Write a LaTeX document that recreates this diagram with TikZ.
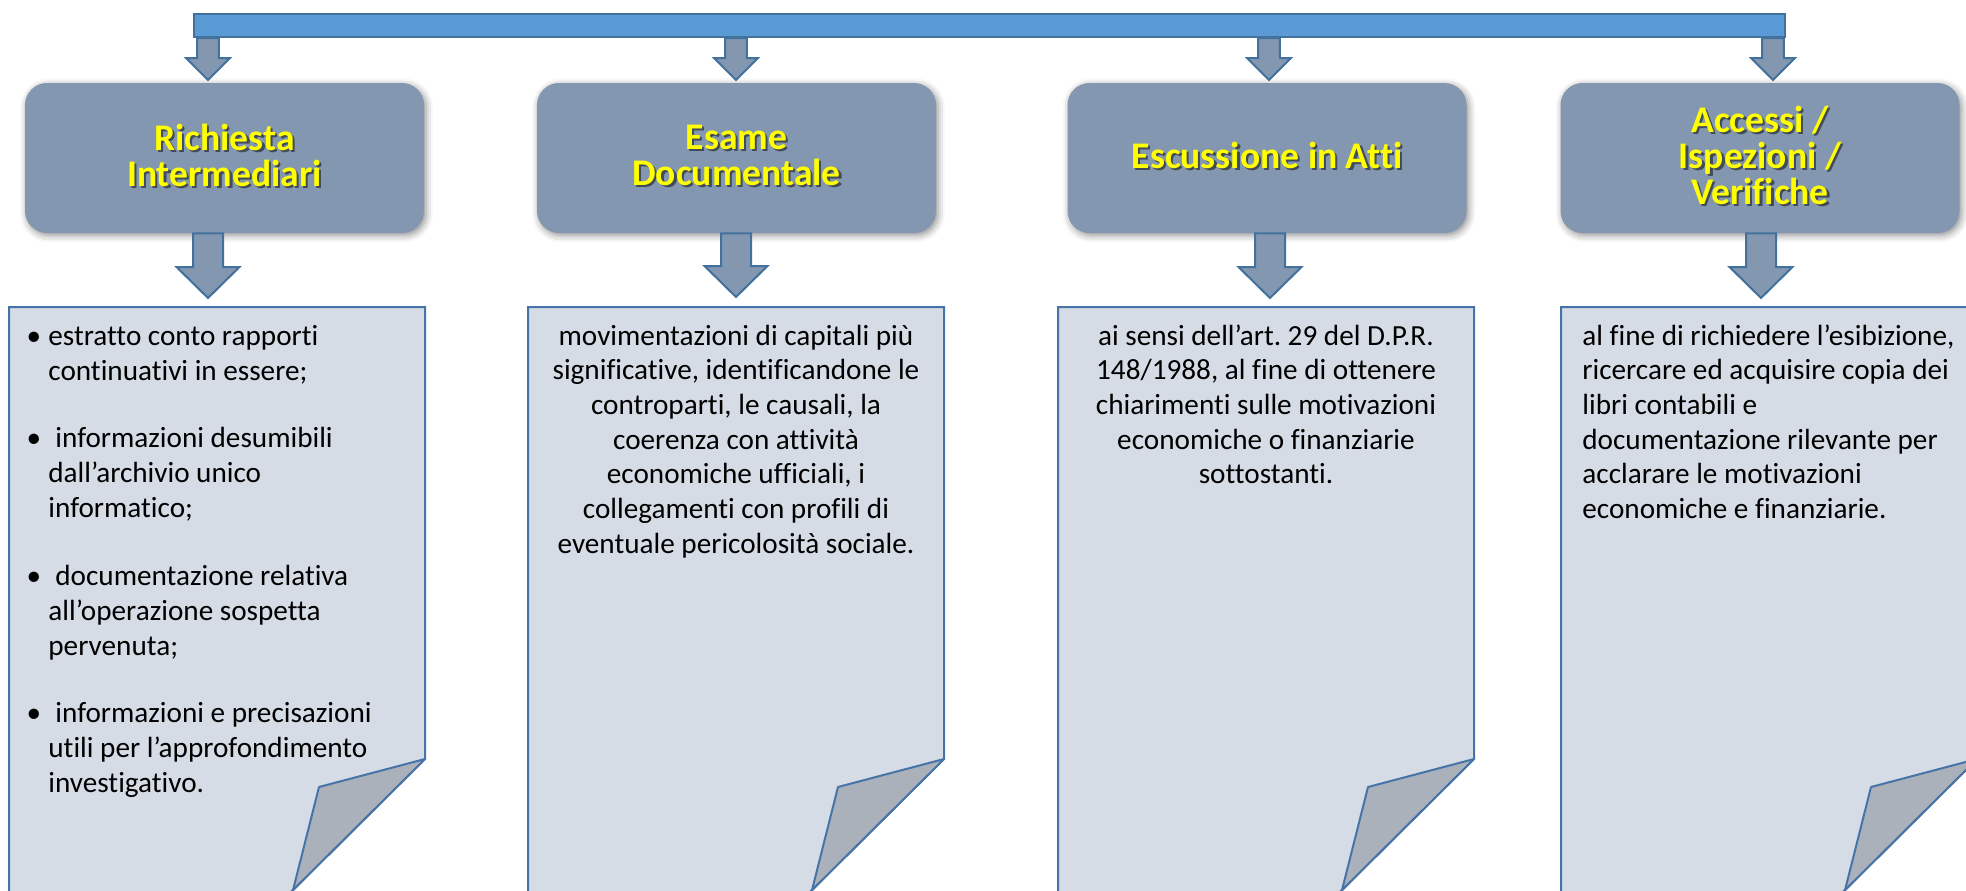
\documentclass[tikz,border=0pt]{standalone}
\usepackage{fontspec}
\setmainfont{Carlito}[Ligatures={NoCommon}]
\usetikzlibrary{calc,shadows.blur}
\frenchspacing
\definecolor{barfill}{HTML}{5B9BD5}
\definecolor{edge}{HTML}{41719C}
\definecolor{docedge}{HTML}{4674A8}
\definecolor{boxfill}{HTML}{8497B0}
\definecolor{docfill}{HTML}{D6DCE5}
\definecolor{flapfill}{HTML}{ABB1BA}
\definecolor{titlec}{HTML}{FFFF00}
\colorlet{tshadow}{black!50!boxfill}
\newcommand\sh[1]{\leavevmode\rlap{\hspace{1.1pt}\raisebox{-1.1pt}[0pt][0pt]{\color{tshadow}#1}}#1}
\newcommand\blockarrow[5]{\draw[barrow] let \p1=(#1), \p2=(#2) in
  (\x2-#3,\y1) -- (\x2+#3,\y1) -- (\x2+#3,\y2+#5) -- (\x2+#4,\y2+#5) -- (\x2,\y2)
  -- (\x2-#4,\y2+#5) -- (\x2-#3,\y2+#5) -- cycle;}
\newcommand\docpage[3]{%
  \draw[docstyle] (#1,307) -- (#2,307) -- (#2,759) -- (#2-142,900) -- (#1,900) -- cycle;
  \draw[flapstyle] (#2,759) -- (#2-106,787) -- (#2-134.5,900) -- (#2-142,900) -- cycle;
  \coordinate (#3) at ({(#1+#2)/2},307);}
\begin{document}
\begin{tikzpicture}[x=0.5pt,y=-0.5pt,
  barstyle/.style={draw=edge, line width=1.2pt, fill=barfill, inner sep=0pt, minimum width=795.5pt, minimum height=11.5pt},
  boxstyle/.style={fill=boxfill, rounded corners=11pt, inner sep=0pt, minimum width=199.5pt, minimum height=75pt,
    blur shadow={shadow xshift=1pt, shadow yshift=-1.2pt, shadow blur radius=3.5pt, shadow opacity=45}},
  titlestyle/.style={text=titlec, font=\bfseries\fontsize{18.8}{18}\selectfont, align=center, inner sep=0pt},
  barrow/.style={draw=edge, line width=1pt, fill=boxfill, line join=miter},
  docstyle/.style={draw=docedge, line width=1pt, fill=docfill},
  flapstyle/.style={draw=docedge, line width=1pt, fill=flapfill, line join=round},
  body/.style={font=\fontsize{14.6}{17.35}\selectfont, inner sep=0pt, text=black}]
\useasboundingbox (0,0) rectangle (1966,890);
\begin{scope}
\clip (0,0) rectangle (1966,890);

% documents
\docpage{9}{425}{doc1}
\docpage{528}{944}{doc2}
\docpage{1058}{1474}{doc3}
\docpage{1561}{1977}{doc4}

% top bar
\node[barstyle] (bar) at (989.5,25.5) {};

% boxes
\node[boxstyle] (box1) at (224.5,158) {};
\node[boxstyle] (box2) at (736.5,158) {};
\node[boxstyle] (box3) at (1267,158) {};
\node[boxstyle] (box4) at (1760,158) {};

\node[titlestyle] (title1) at (224.5,155) {\sh{Richiesta}\\\sh{Intermediari}};
\node[titlestyle] (title2) at (736.5,155) {\sh{Esame}\\\sh{Documentale}};
\node[titlestyle] (title3) at (1267,155) {\sh{Escussione in Atti}};
\node[titlestyle] (title4) at (1760,155) {\sh{Accessi /}\\\sh{Ispezioni /}\\\sh{Verifiche}};

% arrow tips
\coordinate (ta1) at (208,80);
\coordinate (ta2) at (736,80);
\coordinate (ta3) at (1269,80);
\coordinate (ta4) at (1773,80);
\coordinate (tb1) at (208,298);
\coordinate (tb2) at (736,297);
\coordinate (tb3) at (1270,298);
\coordinate (tb4) at (1761,298);

\blockarrow{bar.south}{ta1}{5.4pt}{11pt}{11pt}
\blockarrow{bar.south}{ta2}{5.4pt}{11pt}{11pt}
\blockarrow{bar.south}{ta3}{5.4pt}{11pt}{11pt}
\blockarrow{bar.south}{ta4}{5.4pt}{11pt}{11pt}
\node[barstyle] (barfront) at (989.5,25.5) {};

\blockarrow{box1.south}{tb1}{7.5pt}{15.75pt}{15.5pt}
\blockarrow{box2.south}{tb2}{7.5pt}{15.75pt}{15.5pt}
\blockarrow{box3.south}{tb3}{7.5pt}{15.75pt}{15.5pt}
\blockarrow{box4.south}{tb4}{7.5pt}{15.75pt}{15.5pt}

% doc 1 bullets
\node[body, anchor=base] (b1) at (34,345) {•};
\node[body, anchor=base] (b2) at (34,447) {•};
\node[body, anchor=base] (b3) at (34,585) {•};
\node[body, anchor=base] (b4) at (34,722) {•};
\foreach \xx/\yy/\s [count=\i] in {48/345/{estratto conto rapporti},48/380/{continuativi in essere;},
  55/447/{informazioni desumibili},48/482/{dall’archivio unico},48/517/{informatico;},
  55/585/{documentazione relativa},48/620/{all’operazione sospetta},48/655/{pervenuta;},
  55/722/{informazioni e precisazioni},48/757/{utili per l’approfondimento},48/792/{investigativo.}}
  \node[body, anchor=base west] (dA\i) at (\xx,\yy) {\s};

\foreach \s [count=\i from 0] in {{movimentazioni di capitali più},{significative, identificandone le},
  {controparti, le causali, la},{coerenza con attività},{economiche ufficiali, i},
  {collegamenti con profili di},{eventuale pericolosità sociale.}}
  \node[body, anchor=base] (dB\i) at (736,{345+34.7*\i}) {\s};

\foreach \s [count=\i from 0] in {{ai sensi dell’art. 29 del D.P.R.},{148/1988, al fine di ottenere},
  {chiarimenti sulle motivazioni},{economiche o finanziarie},{sottostanti.}}
  \node[body, anchor=base] (dC\i) at (1266,{345+34.7*\i}) {\s};

\foreach \s [count=\i from 0] in {{al fine di richiedere l’esibizione,},{ricercare ed acquisire copia dei},
  {libri contabili e},{documentazione rilevante per},{acclarare le motivazioni},
  {economiche e finanziarie.}}
  \node[body, anchor=base west] (dD\i) at (1582,{345+34.7*\i}) {\s};
\end{scope}
\end{tikzpicture}
\end{document}
